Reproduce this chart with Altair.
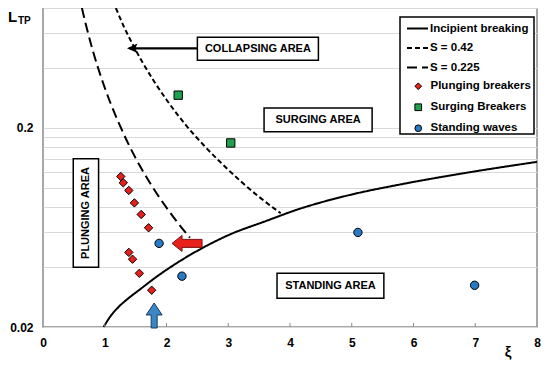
import altair as alt
import pandas as pd

FONT = "Liberation Sans"

# ---- curves ----
inc_xi = [0.982, 1.095, 1.223, 1.384, 1.577, 1.787, 2.109, 2.511, 2.994, 3.638, 4.121, 4.926, 5.859, 6.857, 8.00]
inc_L = [0.0200, 0.0227, 0.0252, 0.0279, 0.0310, 0.0348, 0.0408, 0.0485, 0.0577, 0.0686, 0.0778, 0.0914, 0.105, 0.119, 0.135]
s042_xi = [1.18, 1.30, 1.45, 1.60, 1.80, 2.00, 2.30, 2.60, 2.90, 3.20, 3.50, 3.85]
s042_L = [0.80, 0.655, 0.527, 0.433, 0.342, 0.277, 0.209, 0.164, 0.132, 0.108, 0.090, 0.0745]
s0225_xi = [0.63, 0.70, 0.80, 0.90, 1.00, 1.10, 1.25, 1.40, 1.60, 1.80, 2.00, 2.20, 2.38]
s0225_L = [0.80, 0.65, 0.497, 0.393, 0.318, 0.263, 0.204, 0.162, 0.124, 0.098, 0.0795, 0.0657, 0.0562]
curve_names = ["Incipient breaking", "S = 0.42", "S = 0.225"]

# ---- measured points ----
plunging_xi = [1.26, 1.30, 1.39, 1.48, 1.59, 1.71, 1.39, 1.45, 1.56, 1.76]
plunging_L = [0.114, 0.106, 0.097, 0.084, 0.0735, 0.063, 0.0474, 0.0438, 0.0372, 0.0306]
surging_xi = [2.19, 3.04]
surging_L = [0.292, 0.168]
standing_xi = [1.88, 2.25, 5.10, 6.99]
standing_L = [0.0526, 0.036, 0.0597, 0.0324]
point_types = ["Plunging breakers", "Surging Breakers", "Standing waves"]
point_colors = ["#e8201c", "#1fa04a", "#2a79c6"]
point_shapes = ["diamond", "square", "circle"]

# ---- area labels ----
area_labels = ["COLLAPSING AREA", "SURGING AREA", "STANDING AREA", "PLUNGING AREA"]
area_x1 = [2.50, 3.58, 3.79, 0.49]
area_x2 = [4.46, 5.33, 5.52, 0.90]
area_y1 = [0.4376, 0.191, 0.0279, 0.0399]
area_y2 = [0.570, 0.2518, 0.0372, 0.140]
area_angle = [0, 0, 0, 270]

# ---- axis ticks ----
x_ticks = [0, 1, 2, 3, 4, 5, 6, 7, 8]
y_grid = [0.02, 0.04, 0.06, 0.08, 0.1, 0.12, 0.14, 0.16, 0.18, 0.2, 0.4, 0.6, 0.8]

xs = alt.Scale(domain=[0, 8], nice=False, zero=False)
ys = alt.Scale(type="log", domain=[0.02, 0.8], nice=False)

rows = []
for name, xv, yv in zip(curve_names, [inc_xi, s042_xi, s0225_xi], [inc_L, s042_L, s0225_L]):
    for i, (a, b) in enumerate(zip(xv, yv)):
        rows.append({"xi": a, "L": b, "curve": name, "o": i})
df_curves = pd.DataFrame(rows)

prow = []
for name, xv, yv in zip(point_types, [plunging_xi, surging_xi, standing_xi], [plunging_L, surging_L, standing_L]):
    for a, b in zip(xv, yv):
        prow.append({"xi": a, "L": b, "type": name})
df_pts = pd.DataFrame(prow)

df_areas = pd.DataFrame({
    "label": area_labels, "x1": area_x1, "x2": area_x2, "y1": area_y1, "y2": area_y2,
    "angle": area_angle,
})
df_areas["xc"] = (df_areas.x1 + df_areas.x2) / 2
df_areas["yc"] = (df_areas.y1 * df_areas.y2) ** 0.5

x_axis = alt.Axis(values=x_ticks, format="d", domain=False, ticks=False, grid=False,
                  labelPadding=10, title=None, labelFlush=False)
y_axis = alt.Axis(values=y_grid, format=".2~f",
                  labelExpr="datum.value == 0.2 || datum.value == 0.02 ? datum.label : ''",
                  domain=False, ticks=False, grid=True, gridColor="#d9d9d9", gridWidth=1,
                  labelPadding=10, title=None, labelOverlap=False)

lines = alt.Chart(df_curves).mark_line(color="black", strokeWidth=2, interpolate="monotone").encode(
    x=alt.X("xi:Q", scale=xs, axis=x_axis),
    y=alt.Y("L:Q", scale=ys, axis=y_axis),
    order="o:Q",
    strokeDash=alt.StrokeDash(
        "curve:N",
        scale=alt.Scale(domain=curve_names, range=[[1, 0], [5, 3], [10, 5]]),
        legend=alt.Legend(title=None, orient="none", legendX=363, legendY=9, padding=0,
                          symbolType="stroke", symbolSize=441,
                          symbolStrokeWidth=2, symbolStrokeColor="black",
                          rowPadding=2.5, labelOffset=1),
    ),
)

pt_legend = alt.Legend(title=None, orient="none", legendX=369.5, legendY=72.5, padding=0,
                       symbolSize=45, symbolStrokeWidth=1,
                       symbolStrokeColor="black", rowPadding=8, labelOffset=6.5)

points = alt.Chart(df_pts).mark_point(filled=True, stroke="black", strokeWidth=1, size=70, opacity=1).encode(
    x="xi:Q", y="L:Q",
    color=alt.Color("type:N", scale=alt.Scale(domain=point_types, range=point_colors), legend=pt_legend),
    shape=alt.Shape("type:N", scale=alt.Scale(domain=point_types, range=point_shapes), legend=pt_legend),
)

boxes = alt.Chart(df_areas).mark_rect(fill="white", stroke="black", strokeWidth=1.5).encode(
    x="x1:Q", x2="x2:Q", y="y1:Q", y2="y2:Q")
box_text = alt.Chart(df_areas).mark_text(font=FONT, fontWeight="bold", fontSize=11, color="black").encode(
    x="xc:Q", y="yc:Q", text="label:N", angle=alt.Angle("angle:Q", scale=None))

# collapsing arrow
df_carrow = pd.DataFrame({"x1": [1.40], "x2": [2.50], "y": [0.502]})
c_line = alt.Chart(df_carrow).mark_rule(color="black", strokeWidth=2.2).encode(x="x1:Q", x2="x2:Q", y="y:Q")
df_ctip = pd.DataFrame({"xi": [1.36], "L": [0.502]})
c_head = alt.Chart(df_ctip).mark_point(shape="M0,0 L2,-0.9 L1.6,0 L2,0.9 Z", size=110, filled=True,
                                       color="black", opacity=1).encode(x="xi:Q", y="L:Q")

# red arrow (points left) and blue arrow (points up)
df_red = pd.DataFrame({"xi": [2.09], "L": [0.0526]})
red_arrow = alt.Chart(df_red).mark_point(
    shape="M0,0 L1,-0.8 L1,-0.4 L3,-0.4 L3,0.4 L1,0.4 L1,0.8 Z", size=400, filled=True,
    fill="#e8201c", stroke="#7a1010", strokeWidth=1, opacity=1).encode(x="xi:Q", y="L:Q")
df_blue = pd.DataFrame({"xi": [1.80], "L": [0.0264]})
blue_arrow = alt.Chart(df_blue).mark_point(
    shape="M0,0 L0.8,1.2 L0.3,1.2 L0.3,2.5 L-0.3,2.5 L-0.3,1.2 L-0.8,1.2 Z", size=400, filled=True,
    fill="#3a87c8", stroke="#1c3c5c", strokeWidth=1, opacity=1).encode(x="xi:Q", y="L:Q")

# small inward ticks on x axis
df_xt = pd.DataFrame({"xi": x_ticks[1:-1]})
xticks = alt.Chart(df_xt).mark_rule(color="#8a8a8a", strokeWidth=1).encode(
    x="xi:Q", y=alt.value(319), y2=alt.value(315))

# legend box
one = pd.DataFrame({"a": [0]})
leg_box = alt.Chart(one).mark_rect(fill="white", stroke="black", strokeWidth=1.5).encode(
    x=alt.value(357), x2=alt.value(491), y=alt.value(9), y2=alt.value(126))

# axis titles
t_L = alt.Chart(one).mark_text(text="L", font=FONT, fontWeight="bold", fontSize=15, align="left",
                              baseline="alphabetic", color="black").encode(x=alt.value(-35), y=alt.value(14))
t_TP = alt.Chart(one).mark_text(text="TP", font=FONT, fontWeight="bold", fontSize=10, align="left",
                               baseline="alphabetic", color="black").encode(x=alt.value(-25), y=alt.value(16))
t_xi = alt.Chart(one).mark_text(text="ξ", font=FONT, fontWeight="bold", fontSize=15, align="center",
                               baseline="alphabetic", color="black").encode(x=alt.value(465), y=alt.value(349))

chart = alt.layer(
    lines, xticks, boxes, box_text, c_line, c_head, points, red_arrow, blue_arrow, leg_box, t_L, t_TP, t_xi
).properties(
    width=494, height=319,
    autosize=alt.AutoSizeParams(type="none"),
    padding={"left": 35, "top": 0, "right": 5, "bottom": 35},
).configure(
    background="white"
).configure_view(
    stroke="#8a8a8a", strokeWidth=1.5
).configure_axis(
    labelFont=FONT, labelFontWeight="bold", labelFontSize=12, labelColor="black"
).configure_legend(
    labelFont=FONT, labelFontWeight="bold", labelFontSize=11.5, labelColor="black"
)

chart.save("out.html", embed_options={"renderer": "svg", "actions": False})
